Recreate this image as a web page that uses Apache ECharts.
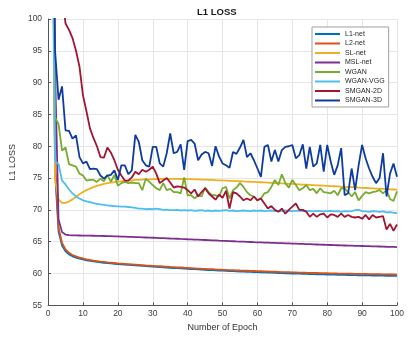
<!DOCTYPE html>
<html>
<head>
<meta charset="utf-8">
<title>L1 LOSS</title>
<script src="https://cdn.jsdelivr.net/npm/echarts@6/dist/echarts.min.js"></script>
<style>
  html, body { margin: 0; padding: 0; background: #fff; }
  #chart { width: 415px; height: 339px; }
</style>
</head>
<body>
<div id="chart"></div>
<script>
// epochs 1..100 on the x axis
const epochs = Array.from({ length: 100 }, (_, i) => i + 1);
const xTicks = [0, 10, 20, 30, 40, 50, 60, 70, 80, 90, 100];
const yTicks = [55, 60, 65, 70, 75, 80, 85, 90, 95, 100];

const names = ['L1-net', 'L2-net', 'SL-net', 'MSL-net', 'WGAN', 'WGAN-VGG', 'SMGAN-2D', 'SMGAN-3D'];

const l1Net = [
  150, 76, 66.6, 64.4, 63.5, 63.0, 62.7, 62.5, 62.33, 62.2,
  62.08, 61.98, 61.9, 61.82, 61.75, 61.69, 61.63, 61.58, 61.53, 61.48,
  61.44, 61.4, 61.36, 61.32, 61.28, 61.24, 61.2, 61.16, 61.12, 61.08,
  61.04, 61.0, 60.97, 60.93, 60.9, 60.86, 60.83, 60.8, 60.76, 60.73,
  60.7, 60.67, 60.64, 60.61, 60.58, 60.55, 60.52, 60.49, 60.46, 60.44,
  60.41, 60.39, 60.36, 60.34, 60.31, 60.29, 60.27, 60.24, 60.22, 60.2,
  60.18, 60.16, 60.14, 60.12, 60.1, 60.08, 60.06, 60.04, 60.02, 60.0,
  59.98, 59.97, 59.95, 59.93, 59.92, 59.9, 59.88, 59.87, 59.85, 59.84,
  59.82, 59.81, 59.8, 59.78, 59.77, 59.76, 59.74, 59.73, 59.72, 59.71,
  59.7, 59.69, 59.68, 59.67, 59.66, 59.65, 59.64, 59.63, 59.62, 59.61
];

const l2Net = [
  155, 77.5, 67.2, 64.8, 63.8, 63.25, 62.9, 62.68, 62.5, 62.36,
  62.23, 62.12, 62.03, 61.95, 61.87, 61.81, 61.75, 61.7, 61.65, 61.6,
  61.56, 61.52, 61.48, 61.44, 61.4, 61.36, 61.32, 61.28, 61.25, 61.21,
  61.17, 61.14, 61.1, 61.07, 61.03, 61.0, 60.97, 60.94, 60.9, 60.87,
  60.84, 60.81, 60.78, 60.75, 60.73, 60.7, 60.67, 60.64, 60.62, 60.59,
  60.57, 60.54, 60.52, 60.5, 60.47, 60.45, 60.43, 60.41, 60.39, 60.37,
  60.35, 60.33, 60.31, 60.29, 60.27, 60.25, 60.23, 60.22, 60.2, 60.18,
  60.17, 60.15, 60.14, 60.12, 60.11, 60.09, 60.08, 60.07, 60.05, 60.04,
  60.03, 60.02, 60.0, 59.99, 59.98, 59.97, 59.96, 59.95, 59.94, 59.93,
  59.92, 59.91, 59.9, 59.89, 59.88, 59.87, 59.86, 59.85, 59.84, 59.83
];

const slNet = [
  130, 74.8, 71.6, 71.1, 71.1, 71.3, 71.65, 72.05, 72.45, 72.8,
  73.1, 73.35, 73.58, 73.77, 73.93, 74.07, 74.19, 74.29, 74.37, 74.44,
  74.5, 74.55, 74.6, 74.65, 74.7, 74.72, 74.75, 74.78, 74.8, 74.82,
  74.84, 74.85, 74.86, 74.87, 74.87, 74.87, 74.86, 74.85, 74.85, 74.84,
  74.82, 74.8, 74.78, 74.76, 74.74, 74.72, 74.7, 74.67, 74.65, 74.62,
  74.6, 74.57, 74.55, 74.52, 74.5, 74.47, 74.45, 74.42, 74.4, 74.37,
  74.34, 74.31, 74.28, 74.25, 74.22, 74.19, 74.16, 74.13, 74.1, 74.07,
  74.04, 74.01, 73.98, 73.95, 73.92, 73.89, 73.86, 73.83, 73.8, 73.77,
  73.74, 73.71, 73.68, 73.65, 73.62, 73.59, 73.56, 73.53, 73.5, 73.47,
  73.44, 73.41, 73.38, 73.35, 73.32, 73.29, 73.26, 73.23, 73.2, 73.17
];

const mslNet = [
  140, 92, 68.5, 66.5, 66.12, 66.02, 65.99, 65.98, 65.97, 65.96,
  65.95, 65.94, 65.93, 65.92, 65.9, 65.89, 65.87, 65.86, 65.84, 65.82,
  65.8, 65.78, 65.76, 65.74, 65.72, 65.7, 65.68, 65.66, 65.64, 65.62,
  65.6, 65.57, 65.55, 65.53, 65.5, 65.48, 65.46, 65.43, 65.41, 65.38,
  65.36, 65.33, 65.31, 65.28, 65.26, 65.24, 65.21, 65.19, 65.16, 65.14,
  65.12, 65.09, 65.07, 65.04, 65.02, 65.0, 64.97, 64.95, 64.92, 64.9,
  64.88, 64.86, 64.84, 64.82, 64.8, 64.78, 64.76, 64.74, 64.72, 64.7,
  64.68, 64.66, 64.64, 64.62, 64.6, 64.58, 64.56, 64.54, 64.52, 64.5,
  64.48, 64.46, 64.44, 64.42, 64.4, 64.38, 64.37, 64.35, 64.34, 64.32,
  64.3, 64.29, 64.27, 64.26, 64.24, 64.22, 64.2, 64.19, 64.17, 64.15
];

const wgan = [
  140, 84.5, 83.5, 79.3, 79.8, 77.2, 77.0, 76.8, 75.7, 75.4,
  74.6, 74.7, 74.7, 74.4, 74.9, 74.5, 75.5, 74.4, 75.5, 73.8,
  74.2, 74.4, 74.2, 74.3, 74.2, 74.2, 73.1, 74.9, 74.4, 73.9,
  73.4, 73.1, 74.2, 73.1, 73.3, 72.8, 72.8, 72.6, 75.1, 72.3,
  72.3, 71.8, 72.3, 72.1, 73.5, 72.8, 72.3, 72.3, 72.1, 73.4,
  73.6, 71.8, 73.1, 73.5, 74.2, 73.6, 72.8, 72.3, 72.1, 71.5,
  71.8, 72.6, 72.8, 73.6, 74.7, 73.9, 75.6, 74.2, 73.5, 74.7,
  73.9, 73.1, 73.4, 73.9, 73.1, 73.3, 72.6, 73.4, 72.8, 72.7,
  72.6, 73.0, 72.3, 73.4, 73.4, 72.8, 72.1, 72.8, 71.5, 72.2,
  72.8, 72.6, 72.8, 72.9, 73.1, 72.6, 73.1, 71.7, 71.4, 72.9
];

const wganVgg = [
  130, 77.6, 77.2, 74.6, 74.0, 73.2, 72.6, 72.1, 71.8, 71.5,
  71.35, 71.2, 71.05, 70.95, 70.85, 70.8, 70.7, 70.65, 70.6, 70.55,
  70.5, 70.5, 70.45, 70.4, 70.3, 70.2, 70.2, 70.1, 70.15, 70.1,
  70.2, 70.1, 70.0, 70.05, 69.95, 69.95, 70.0, 69.9, 69.95, 69.9,
  69.95, 69.85, 69.9, 69.95, 69.85, 69.9, 69.8, 69.9, 69.85, 69.9,
  69.95, 69.85, 69.9, 69.8, 69.85, 69.9, 69.85, 69.8, 69.9, 69.85,
  69.9, 69.8, 69.85, 69.9, 69.8, 69.85, 69.8, 69.9, 69.85, 69.8,
  69.85, 69.9, 69.8, 69.85, 69.8, 69.75, 69.85, 69.8, 69.75, 69.8,
  69.85, 69.75, 69.8, 69.7, 69.8, 69.75, 69.8, 69.95, 70.0, 69.8,
  69.75, 69.7, 69.8, 69.75, 69.7, 69.75, 69.6, 69.65, 69.55, 69.5
];

const smgan2d = [
  160, 140, 120, 104, 99.3, 98.3, 97.0, 95.0, 92.5, 88.0,
  85.5, 82.8, 81.3, 80.0, 78.3, 78.2, 79.8, 79.0, 77.8, 76.3,
  75.4, 74.6, 74.6, 75.1, 76.0, 75.6, 76.3, 76.0, 76.3, 76.8,
  75.7, 74.2, 74.6, 75.0, 74.3, 73.5, 73.7, 73.6, 73.5, 73.1,
  72.6, 73.2, 72.1, 72.8, 73.4, 72.6, 72.1, 71.6, 72.4, 71.9,
  73.0, 70.2, 72.8, 72.6, 72.1, 71.5, 71.8, 71.5, 72.1, 71.5,
  71.8, 71.0, 70.2, 70.6, 70.0, 69.7, 70.2, 69.4, 70.0, 70.5,
  71.0, 70.0, 70.0, 69.7, 68.9, 69.4, 68.9, 69.3, 69.4, 68.8,
  69.3, 69.2, 68.9, 69.4, 68.9, 69.2, 68.9, 68.8, 68.9, 68.6,
  69.2, 68.5, 69.2, 68.8, 68.9, 69.0, 66.9, 67.8, 66.7, 67.7
];

const smgan3d = [
  160, 95, 87.3, 89.4, 82.5, 82.4, 81.2, 81.7, 78.3, 77.3,
  77.6, 76.4, 76.5, 76.4, 75.4, 74.9, 75.4, 75.5, 76.2, 74.7,
  77.0, 77.0, 75.6, 76.2, 81.8, 80.7, 77.8, 77.0, 76.8, 79.9,
  79.9, 77.3, 76.8, 78.9, 82.0, 78.9, 79.1, 80.3, 76.3, 80.8,
  81.0, 80.4, 77.8, 78.7, 79.1, 78.9, 76.9, 80.0, 78.4, 77.3,
  77.0, 76.6, 79.1, 78.8, 79.8, 81.0, 78.3, 78.9, 77.8, 76.5,
  75.2, 79.9, 80.2, 77.6, 79.4, 77.6, 79.4, 79.9, 80.0, 80.2,
  78.1, 78.6, 80.3, 76.5, 79.9, 76.8, 77.3, 80.2, 76.0, 80.2,
  77.6, 75.5, 77.0, 79.7, 72.3, 72.6, 76.5, 73.1, 77.0, 80.2,
  78.1, 76.5, 75.2, 74.2, 75.0, 78.9, 72.1, 75.7, 77.3, 75.2
];

const allValues = [l1Net, l2Net, slNet, mslNet, wgan, wganVgg, smgan2d, smgan3d];
const colors = ['#0072BD', '#D95319', '#EDB120', '#7E2F8E', '#77AC30', '#4DBEEE', '#A2142F', '#0E3C9E'];

const font = '"Liberation Sans", Arial, Helvetica, sans-serif';
const axisColor = '#555';

const chart = echarts.init(document.getElementById('chart'));
chart.setOption({
  animation: false,
  backgroundColor: '#fff',
  textStyle: { fontFamily: font },
  title: {
    text: 'L1 LOSS',
    left: 197,
    top: 7,
    padding: 0,
    textStyle: { fontSize: 9.5, fontWeight: 'bold', color: '#1a1a1a', fontFamily: font }
  },
  grid: { left: 35.3, right: 18, top: 19, bottom: 33.7 },
  xAxis: {
    type: 'value',
    min: xTicks[0],
    max: xTicks[xTicks.length - 1],
    interval: xTicks[1] - xTicks[0],
    name: 'Number of Epoch',
    nameLocation: 'middle',
    nameGap: 16,
    nameTextStyle: { fontSize: 9, color: '#333', fontFamily: font },
    axisLine: { lineStyle: { color: axisColor, width: 1 } },
    axisTick: { inside: true, length: 3, lineStyle: { color: axisColor } },
    axisLabel: { fontSize: 8.5, color: '#404040', margin: 4, fontFamily: font },
    splitLine: { show: true, lineStyle: { color: '#e6e6e6', width: 1 } }
  },
  yAxis: {
    type: 'value',
    min: yTicks[0],
    max: yTicks[yTicks.length - 1],
    interval: yTicks[1] - yTicks[0],
    name: 'L1 LOSS',
    nameLocation: 'middle',
    nameGap: 20,
    nameTextStyle: { fontSize: 9, color: '#333', fontFamily: font },
    axisLine: { show: true, lineStyle: { color: axisColor, width: 1 } },
    axisTick: { show: true, inside: true, length: 3, lineStyle: { color: axisColor } },
    axisLabel: { fontSize: 8.5, color: '#404040', margin: 6, fontFamily: font },
    splitLine: { show: true, lineStyle: { color: '#e6e6e6', width: 1 } }
  },
  legend: {
    orient: 'vertical',
    left: 312,
    top: 27,
    icon: 'rect',
    itemWidth: 25,
    itemHeight: 2,
    itemGap: 2.5,
    padding: [3.5, 4, 3, 3],
    borderColor: '#a0a0a0',
    borderWidth: 1,
    backgroundColor: '#fff',
    textStyle: { fontSize: 7, color: '#262626', fontFamily: font },
    data: names
  },
  series: names.map((name, i) => ({
    name: name,
    type: 'line',
    data: epochs.map((e, j) => [e, allValues[i][j]]),
    symbol: 'none',
    showSymbol: false,
    clip: true,
    z: 2 + i,
    lineStyle: { width: 1.8, color: colors[i] },
    itemStyle: { color: colors[i] }
  }))
});
</script>
</body>
</html>
